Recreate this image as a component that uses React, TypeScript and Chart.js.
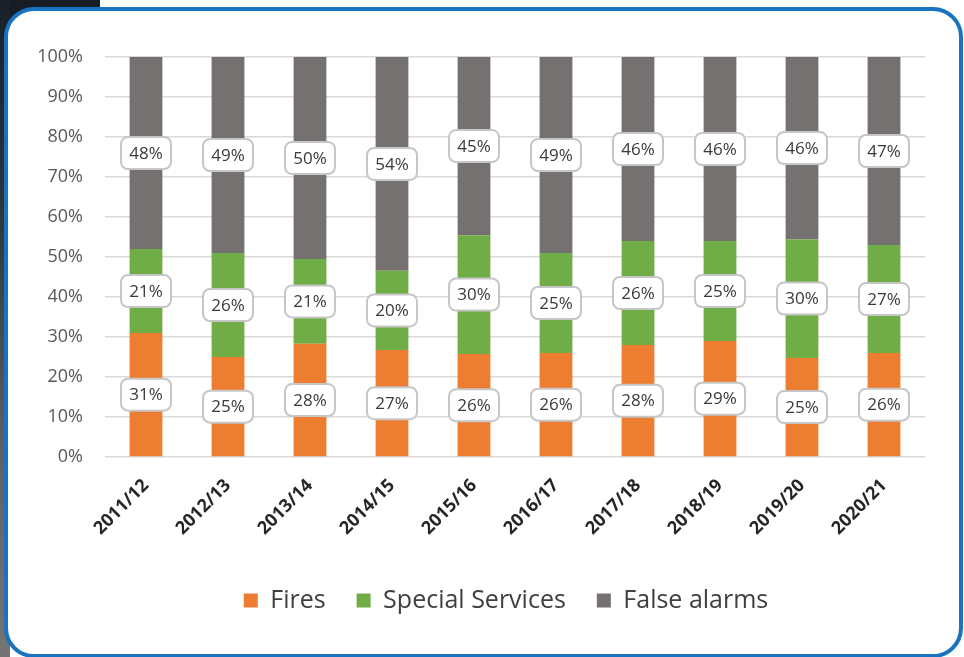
import React, { useEffect, useRef } from 'react';
import { Chart, registerables } from 'chart.js';

Chart.register(...registerables);

// Incident mix by financial year (percent of all incidents)
const categories = ['2011/12', '2012/13', '2013/14', '2014/15', '2015/16', '2016/17', '2017/18', '2018/19', '2019/20', '2020/21'];
const fires = [31, 25, 28, 27, 26, 26, 28, 29, 25, 26];
const specialServices = [21, 26, 21, 20, 30, 25, 26, 25, 30, 27];
const falseAlarms = [48, 49, 50, 54, 45, 49, 46, 46, 46, 47];
const yTickValues = [0, 10, 20, 30, 40, 50, 60, 70, 80, 90, 100];

const seriesNames = ['Fires', 'Special Services', 'False alarms'];
const seriesColors = ['#ED7D31', '#70AD47', '#767171'];
const rawSeries = [fires, specialServices, falseAlarms];

// 100% stacking: each year's bars are scaled by that year's total
const totals = categories.map((_, i) => fires[i] + specialServices[i] + falseAlarms[i]);
const shareOf = (values: number[]) => values.map((v, i) => (v / totals[i]) * 100);

const FONT = '"Open Sans", sans-serif';

// Rounded white callout boxes with the raw percentage in each segment
const valueBoxes = {
  id: 'valueBoxes',
  afterDatasetsDraw(chart: any) {
    const ctx = chart.ctx as CanvasRenderingContext2D;
    chart.data.datasets.forEach((_: any, di: number) => {
      const meta = chart.getDatasetMeta(di);
      meta.data.forEach((bar: any, i: number) => {
        const { x, y, base } = bar.getProps(['x', 'y', 'base'], true);
        const cy = (y + base) / 2;
        const w = 50;
        const h = 32;
        ctx.save();
        ctx.beginPath();
        ctx.roundRect(x - w / 2, cy - h / 2, w, h, 7);
        ctx.fillStyle = '#ffffff';
        ctx.fill();
        ctx.lineWidth = 2;
        ctx.strokeStyle = '#c6c6c6';
        ctx.stroke();
        ctx.font = `17px ${FONT}`;
        ctx.fillStyle = '#3a3a3a';
        ctx.textAlign = 'center';
        ctx.textBaseline = 'middle';
        ctx.fillText(`${rawSeries[di][i]}%`, x, cy + 1);
        ctx.restore();
      });
    });
  },
};

// Centre the legend under the plot area rather than the whole canvas
const legendUnderPlot = {
  id: 'legendUnderPlot',
  afterLayout(chart: any) {
    const legend = chart.legend;
    if (!legend) return;
    const area = chart.chartArea;
    const half = (legend.right - legend.left) / 2;
    const centre = (area.left + area.right) / 2 - 9;
    legend.left = centre - half;
    legend.right = centre + half;
  },
};

function IncidentChart() {
  const canvasRef = useRef<HTMLCanvasElement | null>(null);

  useEffect(() => {
    if (!canvasRef.current) return;
    const chart = new Chart(canvasRef.current, {
      type: 'bar',
      data: {
        labels: categories,
        datasets: rawSeries.map((values, k) => ({
          label: seriesNames[k],
          data: shareOf(values),
          backgroundColor: seriesColors[k],
          borderWidth: 0,
          barPercentage: 0.4,
          categoryPercentage: 1,
        })),
      },
      options: {
        responsive: false,
        animation: false,
        devicePixelRatio: 1,
        layout: { padding: { top: 57, left: 20, right: 39, bottom: 34 } },
        plugins: {
          tooltip: { enabled: false },
          legend: {
            position: 'bottom',
            labels: {
              boxWidth: 14,
              boxHeight: 14,
              padding: 31,
              color: '#404040',
              font: { family: FONT, size: 25 },
            },
          },
        },
        scales: {
          x: {
            stacked: true,
            grid: { display: false },
            border: { display: false },
            ticks: {
              minRotation: 45,
              maxRotation: 45,
              padding: 10,
              color: '#262626',
              font: { family: FONT, size: 18, weight: 'bold' },
            },
            afterFit: (scale: any) => {
              scale.height = 100;
            },
          },
          y: {
            stacked: true,
            min: 0,
            max: 100,
            afterBuildTicks: (scale: any) => {
              scale.ticks = yTickValues.map((v) => ({ value: v }));
            },
            grid: { color: '#d9d9d9', lineWidth: 1.5, drawTicks: false },
            border: { display: false },
            ticks: {
              padding: 22,
              color: '#595959',
              font: { family: FONT, size: 18 },
              callback: (v: any) => `${v}%`,
            },
            afterFit: (scale: any) => {
              scale.width = 85;
            },
          },
        },
      },
      plugins: [valueBoxes, legendUnderPlot],
    });
    return () => chart.destroy();
  }, []);

  return (
    <canvas
      ref={canvasRef}
      width={964}
      height={657}
      style={{ position: 'absolute', left: 0, top: 0, width: 964, height: 657 }}
    />
  );
}

export default function App() {
  return (
    <div style={{ position: 'absolute', left: 0, top: 0, width: 964, height: 657, overflow: 'hidden', background: '#ffffff' }}>
      <div style={{ position: 'absolute', left: 0, top: 0, width: 100, height: 60, background: '#161d27' }} />
      <div
        style={{
          position: 'absolute',
          left: 0,
          top: 0,
          width: 10,
          height: 657,
          background: 'linear-gradient(#18202b, #2c333c 30%, #5f6165 70%, #747474)',
        }}
      />
      <div
        style={{
          position: 'absolute',
          left: 4,
          top: 7,
          width: 959,
          height: 651,
          boxSizing: 'border-box',
          border: '4px solid #1a73c0',
          borderRadius: 30,
          background: '#ffffff',
        }}
      />
      <IncidentChart />
    </div>
  );
}
